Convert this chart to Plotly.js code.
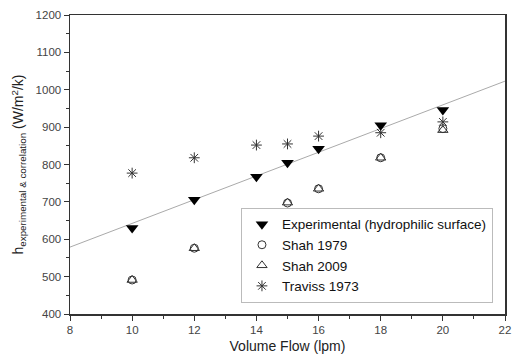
<!DOCTYPE html>
<html>
<head>
<meta charset="utf-8">
<script src="https://cdn.plot.ly/plotly-3.0.1.min.js"></script>
<style>
html,body{margin:0;padding:0;background:#fff;}
#chart{width:512px;height:360px;}
</style>
</head>
<body>
<div id="chart"></div>
<script>
var flow = [10, 12, 14, 15, 16, 18, 20];
var experimental = [630, 706, 767, 805, 842, 905, 946];
var shah1979 = [491, 576, 659, 697, 735, 818, 896];
var shah2009 = [491, 576, 660, 698, 735, 818, 892];
var traviss1973 = [777, 818, 852, 855, 876, 885, 914];
var fitX = [8, 22];
var fitY = [579, 1023];
var xTicks = [8, 10, 12, 14, 16, 18, 20, 22];
var yTicks = [400, 500, 600, 700, 800, 900, 1000, 1100, 1200];

var font = 'Liberation Sans, Arial, sans-serif';

var traces = [
  {x: fitX, y: fitY, mode: 'lines', line: {color: '#aaa', width: 1}, showlegend: false, hoverinfo: 'skip'},
  {x: flow, y: shah1979, mode: 'markers', name: 'Shah 1979', legendrank: 2,
   marker: {symbol: 'circle-open', size: 8, color: '#333', line: {width: 1, color: '#333'}}},
  {x: flow, y: shah2009, mode: 'markers', name: 'Shah 2009', legendrank: 3,
   marker: {symbol: 'triangle-up-open', size: 9, color: '#333', line: {width: 1, color: '#333'}}},
  {x: flow, y: traviss1973, mode: 'markers', name: 'Traviss 1973', legendrank: 4,
   marker: {symbol: 'asterisk-open', size: 9, color: '#333', line: {width: 1, color: '#333'}}},
  {x: flow, y: experimental, mode: 'markers', name: 'Experimental (hydrophilic surface)', legendrank: 1,
   marker: {symbol: 'triangle-down', size: 11, color: '#000', line: {width: 0}}}
];

var layout = {
  width: 512, height: 360,
  margin: {l: 70, r: 7, t: 15, b: 46},
  paper_bgcolor: '#fff', plot_bgcolor: '#fff',
  font: {family: font, size: 11.5, color: '#333'},
  showlegend: true,
  legend: {
    x: 0.393, y: 0.037, xanchor: 'left', yanchor: 'bottom',
    bordercolor: '#bbb', borderwidth: 1, bgcolor: '#fff',
    font: {family: font, size: 13.5, color: '#111'},
    traceorder: 'normal',
    tracegroupgap: 0
  },
  xaxis: {
    range: [8, 22], tickvals: xTicks, ticktext: xTicks.map(String),
    showgrid: false, zeroline: false,
    showline: true, linecolor: '#333', linewidth: 1.5, mirror: true,
    ticks: 'outside', ticklen: 5, tickcolor: '#333', tickwidth: 1,
    minor: {dtick: 1, ticks: 'outside', ticklen: 3, tickcolor: '#333', tickwidth: 1},
    ticklabeloverflow: 'allow',
    tickfont: {family: font, size: 11.5, color: '#444'},
    title: {text: 'Volume Flow (lpm)', font: {family: font, size: 14, color: '#222'}, standoff: 6}
  },
  yaxis: {
    range: [400, 1200], tickvals: yTicks, ticktext: yTicks.map(String),
    showgrid: false, zeroline: false,
    showline: true, linecolor: '#333', linewidth: 1.5, mirror: true,
    ticks: 'outside', ticklen: 5, tickcolor: '#333', tickwidth: 1,
    minor: {dtick: 50, ticks: 'outside', ticklen: 3, tickcolor: '#333', tickwidth: 1},
    tickfont: {family: font, size: 11.5, color: '#444'},
    title: {text: 'h<sub>experimental &amp; correlation</sub> (W/m<sup>2</sup>/k)', font: {family: font, size: 14, color: '#222'}, standoff: 8}
  }
};

Plotly.newPlot('chart', traces, layout, {displayModeBar: false, staticPlot: true});
</script>
</body>
</html>
